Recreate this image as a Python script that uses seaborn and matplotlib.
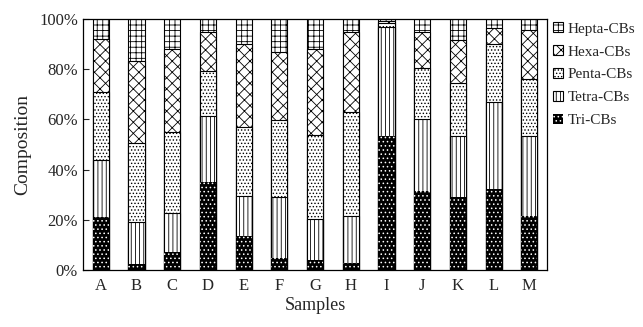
import numpy as np
import pandas as pd
import matplotlib
matplotlib.use("Agg")
import matplotlib.pyplot as plt
import matplotlib.patches as mpatches
import seaborn as sns

# composition (%)
samples = ["A", "B", "C", "D", "E", "F", "G", "H", "I", "J", "K", "L", "M"]
tri   = [21.3, 2.6, 7.3, 35.0, 13.6, 4.8, 4.2, 3.0, 53.4, 31.3, 29.3, 32.2, 21.7]
tetra = [22.4, 16.4, 15.5, 26.3, 16.0, 24.4, 16.0, 18.4, 43.6, 28.9, 24.0, 34.8, 31.6]
penta = [27.3, 31.6, 32.0, 18.0, 27.2, 30.5, 33.6, 41.6, 1.4, 20.4, 21.1, 23.0, 22.9]
hexa  = [21.0, 32.7, 33.2, 15.7, 33.2, 27.3, 34.2, 32.0, 0.8, 14.4, 17.3, 6.6, 19.5]
hepta = [8.0, 16.7, 12.0, 5.0, 10.0, 13.0, 12.0, 5.0, 0.8, 5.0, 8.3, 3.4, 4.3]

names = ["Tri-CBs", "Tetra-CBs", "Penta-CBs", "Hexa-CBs", "Hepta-CBs"]
hatches = ["....", "||||", ".....", "xxx", "+++"]

df = pd.DataFrame({"Sample": samples, "Tri-CBs": tri, "Tetra-CBs": tetra,
                   "Penta-CBs": penta, "Hexa-CBs": hexa, "Hepta-CBs": hepta})
cum = df[names].cumsum(axis=1)
cum = cum.div(cum["Hepta-CBs"], axis=0) * 100

sns.set_style("white")
plt.rcParams["font.family"] = ["Liberation Serif", "DejaVu Serif"]
plt.rcParams["hatch.linewidth"] = 0.6

fig = plt.figure(figsize=(6.43, 3.27), dpi=100)
ax = fig.add_axes([0.129, 0.174, 0.722, 0.768])

# overlapping cumulative bars, tallest first
for i in range(len(names) - 1, -1, -1):
    n = names[i]
    if n == "Tri-CBs":
        sns.barplot(x=df["Sample"], y=cum[n], ax=ax, color="black", width=0.45,
                    edgecolor="white", linewidth=0, saturation=1)
    else:
        sns.barplot(x=df["Sample"], y=cum[n], ax=ax, color="white", width=0.45,
                    edgecolor="black", linewidth=0.8, saturation=1)
    for p in ax.patches[-len(samples):]:
        p.set_hatch(hatches[i])

ax.set_xlim(-0.5, len(samples) - 0.5)
ax.set_ylim(0, 100)
ax.set_yticks([0, 20, 40, 60, 80, 100])
ax.set_yticklabels(["0%", "20%", "40%", "60%", "80%", "100%"])
ax.set_xticks(np.arange(len(samples)))
ax.set_xticklabels(samples)
ax.set_xticks(np.arange(len(samples) - 1) + 0.5, minor=True)
ax.tick_params(axis="x", which="major", length=0, labelsize=12, pad=6)
ax.tick_params(axis="x", which="minor", direction="in", length=4, width=0.8)
ax.tick_params(axis="y", direction="in", length=4, width=0.8, labelsize=12, left=True)
ax.set_xlabel("Samples", fontsize=13, labelpad=2)
ax.set_ylabel("Composition", fontsize=14, labelpad=6)
for s in ax.spines.values():
    s.set_color("black")
    s.set_linewidth(0.9)

handles = []
for i in range(len(names) - 1, -1, -1):
    if names[i] == "Tri-CBs":
        h = mpatches.Patch(facecolor="black", edgecolor="white", hatch=hatches[i], linewidth=0)
    else:
        h = mpatches.Patch(facecolor="white", edgecolor="black", hatch=hatches[i], linewidth=0.8)
    handles.append(h)
ax.legend(handles, names[::-1], loc="upper left", bbox_to_anchor=(0.99, 1.03),
          frameon=False, fontsize=11, handlelength=0.65, handleheight=0.65,
          handletextpad=0.3, labelspacing=0.62, borderaxespad=0.3)

fig.savefig("out.png", dpi=100)
